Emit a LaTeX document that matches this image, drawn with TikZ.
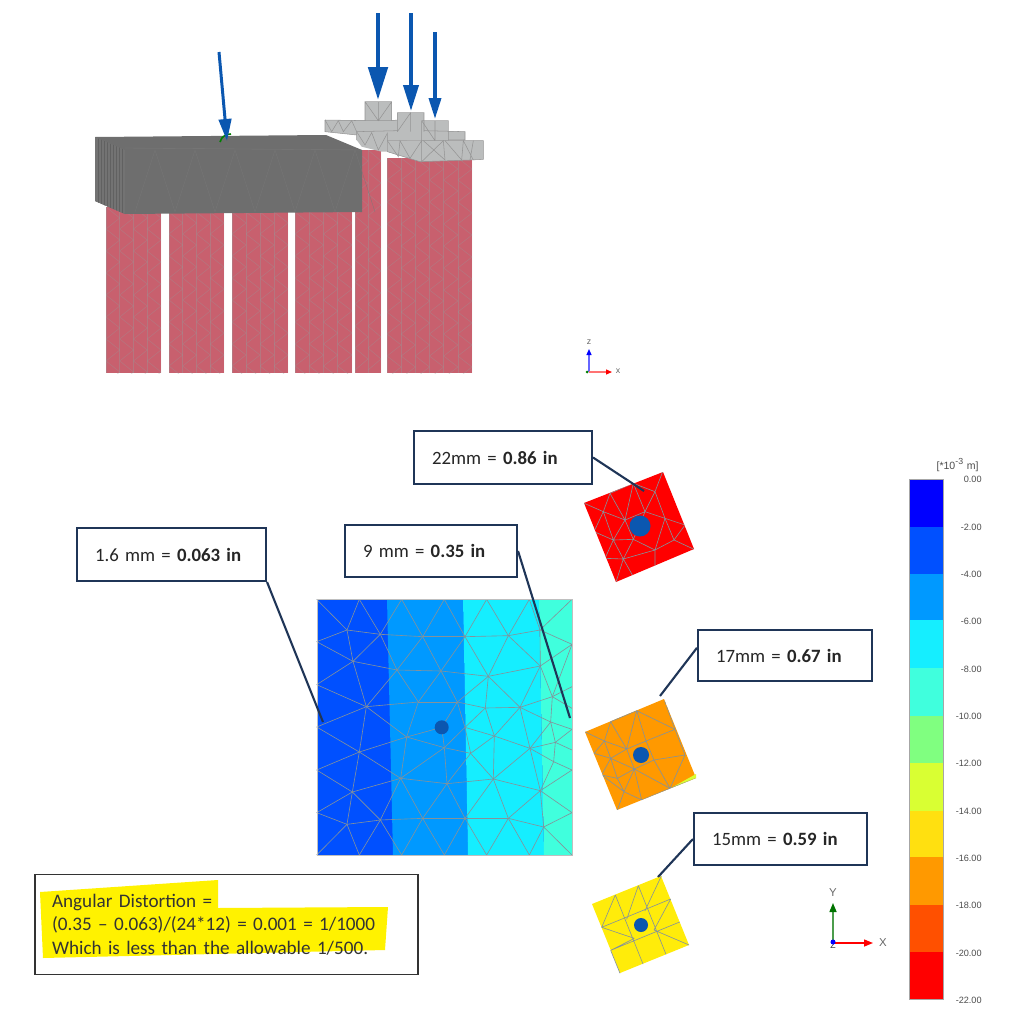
\documentclass[tikz,border=0pt]{standalone}
\usepackage{fontspec}
\setmainfont{Carlito}
\newfontfamily\legendfont{Liberation Sans}
\usetikzlibrary{arrows.meta}
\definecolor{pilered}{HTML}{C8606E}
\definecolor{blockgray}{HTML}{6E6E6E}
\definecolor{capgray}{HTML}{BBBDBD}
\definecolor{loadblue}{HTML}{0B57B0}
\definecolor{calloutnavy}{HTML}{1F3557}
\definecolor{meshgray}{HTML}{85929A}
\definecolor{bandA}{HTML}{0000FF}
\definecolor{bandB}{HTML}{0050FF}
\definecolor{bandC}{HTML}{0099FF}
\definecolor{bandD}{HTML}{15EEFF}
\definecolor{bandE}{HTML}{40FFDD}
\definecolor{bandF}{HTML}{80FF80}
\definecolor{bandG}{HTML}{D9FF33}
\definecolor{bandH}{HTML}{FFE010}
\definecolor{bandI}{HTML}{FF9900}
\definecolor{bandJ}{HTML}{FF5000}
\definecolor{bandK}{HTML}{FF0000}
\tikzstyle{callout} = [draw=calloutnavy, line width=1.2pt, fill=white, text=black!85, font=\fontsize{10.7}{13}\selectfont, inner xsep=.36cm, inner ysep=0pt, align=left]
\tikzstyle{leader} = [draw=calloutnavy, line width=1.2pt]
\tikzstyle{meshline} = [draw=meshgray, line width=.35pt]
\tikzstyle{capline} = [draw=black!42, line width=.3pt]
\tikzstyle{pilegrid} = [draw=black!40, line width=.3pt, opacity=.4]
\tikzstyle{scalelabel} = [anchor=east, inner sep=0pt, text=black!70, font=\legendfont\fontsize{5.2}{6}\selectfont]
\tikzstyle{axislabel} = [inner sep=0pt, text=black!60, font=\legendfont\fontsize{5}{6}\selectfont]
\newcommand{\pile}[4]{
	\fill[pilered] (#1,#3) rectangle (#2,373);
	\begin{scope}
		\clip (#1,#3) rectangle (#2,373);
		\pgfmathsetmacro{\dx}{(#2-#1)/#4}
		\foreach \i in {0,...,#4} {
			\draw[pilegrid] ({#1+\i*\dx},#3) -- ({#1+\i*\dx},373);
		}
		\foreach \i in {1,...,#4} {
			\foreach \k in {0,...,9} {
				\draw[pilegrid] ({#1+(\i-1)*\dx},{#3+22*\k}) -- ({#1+\i*\dx},{#3+22*\k+11}) -- ({#1+(\i-1)*\dx},{#3+22*\k+22});
			}
		}
	\end{scope}
}
\begin{document}
\begin{tikzpicture}[x=.02cm, y=-.02cm]
	\path[use as bounding box] (0,0) rectangle (1024,1028);

	% piles
	\pile{106}{161}{207}{4}
	\pile{169}{224}{212}{4}
	\pile{232}{288}{212}{4}
	\pile{295}{352}{212}{4}
	\pile{355}{381}{150}{2}
	\pile{387}{472}{158}{6}

	% pile caps
	\begin{scope}[shift={(310,90)}, scale=1/3]
		\fill[capgray] (45,90) -- (262,90) -- (262,125) -- (140,135) -- (45,125) -- cycle;
		\fill[capgray] (140,125) -- (330,120) -- (465,125) -- (465,150) -- (232,152) -- (232,185) -- (215,185) -- (155,170) -- (140,150) -- cycle;
		\fill[capgray] (232,152) -- (520,152) -- (520,208) -- (480,210) -- (330,215) -- (232,185) -- cycle;
		\fill[capgray] (165,35) -- (245,35) -- (245,92) -- (165,92) -- cycle;
		\fill[capgray] (262,68) -- (342,68) -- (342,125) -- (262,125) -- cycle;
		\fill[capgray] (335,92) -- (415,92) -- (415,152) -- (335,152) -- cycle;
		\draw[capline] (165,35) -- (245,35) -- (245,92) -- (165,92) -- cycle (165,35) -- (205,92) -- (245,35) (205,35) -- (205,92);
		\draw[capline] (262,68) -- (342,68) -- (342,125) (262,68) -- (262,125) (262,125) -- (302,68) -- (302,125);
		\draw[capline] (335,92) -- (415,92) -- (415,152) (335,92) -- (335,152) (375,92) -- (375,152) (335,92) -- (375,152);
		\draw[capline] (45,90) -- (165,92) (245,92) -- (262,90) (45,90) -- (45,125) -- (140,135);
		\draw[capline] (45,90) -- (65,125) -- (85,92) -- (100,125) -- (125,92) -- (140,125);
		\draw[capline] (140,125) -- (262,122) (140,125) -- (140,150) (342,122) -- (465,125) -- (465,150) -- (415,150);
		\draw[capline] (140,125) -- (165,165) -- (185,128) -- (205,180) -- (232,130) -- (232,152);
		\draw[capline] (232,152) -- (520,152) -- (520,208) -- (480,210) -- (330,215) -- (232,185) -- cycle;
		\draw[capline] (232,152) -- (265,200) -- (270,152) -- (300,205) -- (335,152) -- (335,215) -- (400,152) -- (405,210) -- (340,152);
		\draw[capline] (405,152) -- (455,210) -- (460,152) -- (490,210) (490,152) -- (480,210);
	\end{scope}

	% concrete block
	\fill[blockgray] (95,137) -- (326,135) -- (362,150) -- (362,212) -- (125,214) -- (95,201) -- cycle;
	\begin{scope}
		\clip (95,137) -- (125,150) -- (125,214) -- (95,201) -- cycle;
		\fill[black!55] (95,137) rectangle (125,214);
		\foreach \xx in {98,101,...,122} {
			\draw[black!62, line width=.2pt] (\xx,137) -- (\xx,214);
		}
	\end{scope}
	\draw[black!52, line width=.2pt] (125,148) -- (362,150);
	\foreach \xx in {155,195,...,355} {
		\draw[black!53, line width=.15pt] (\xx,150) -- (\xx-20,212) (\xx,150) -- (\xx+20,212);
	}

	% load arrows
	\coordinate (loadsa) at (219,52);
	\coordinate (loadta) at (227,141);
	\coordinate (loadsb) at (378,13);
	\coordinate (loadtb) at (378,100);
	\coordinate (loadsc) at (411,13);
	\coordinate (loadtc) at (411,111);
	\coordinate (loadsd) at (435,32);
	\coordinate (loadtd) at (435,119);
	\draw[green!50!black, line width=.9pt] (220,142) .. controls (222,136) and (226,134) .. (231,134);
	\draw[loadblue, line width=1.7pt, -{Triangle[length=.44cm, width=.25cm]}] (loadsa) -- (loadta);
	\draw[loadblue, line width=2.8pt, -{Triangle[length=.66cm, width=.38cm]}] (loadsb) -- (loadtb);
	\draw[loadblue, line width=2.2pt, -{Triangle[length=.52cm, width=.3cm]}] (loadsc) -- (loadtc);
	\draw[loadblue, line width=2pt, -{Triangle[length=.42cm, width=.24cm]}] (loadsd) -- (loadtd);

	% top triad
	\coordinate (triadz) at (589,372);
	\coordinate (triadzt) at (589,349);
	\coordinate (triadxt) at (612,372);
	\draw[blue!60, line width=.7pt, -{Triangle[length=.12cm, width=.1cm, color=blue]}] (triadz) -- (triadzt);
	\draw[red!55, line width=.7pt, -{Triangle[length=.12cm, width=.1cm, color=red]}] (triadz) -- (triadxt);
	\fill[green!50!black] (587,372) circle (1.5);
	\node[axislabel] (labz) at (589,342) {z};
	\node[axislabel] (labx) at (618,371) {x};

	% large footing
	\fill[bandB] (317,599) rectangle (572,855);
	\fill[bandC] (387,599) -- (463,599) -- (468,855) -- (393,855) -- cycle;
	\fill[bandD] (463,599) -- (539,599) -- (544,855) -- (468,855) -- cycle;
	\fill[bandE] (539,599) -- (572,599) -- (572,855) -- (544,855) -- cycle;
	\begin{scope}[shift={(300,590)}, scale=1/3]
		\foreach \n/\xx/\yy in {ta/50/28,tb/178/28,tc/305/28,td/433/28,te/560/28,tf/688/28,tg/816/28,
			ba/50/795,bb/178/795,bc/305/795,bd/433/795,be/560/795,bf/688/795,bg/816/795,
			la/50/155,lb/50/284,lc/50/411,ld/50/540,le/50/668,
			ra/816/163,rb/816/290,rc/816/355,rd/816/418,re/816/480,rf/816/540,rg/816/668,
			a/141/120,b/241/133,c/368/140,d/495/140,e/625/137,f/720/120,
			g/159/214,h/291/240,i/423/243,j/565/259,k/721/228,
			l/199/350,m/355/336,n/472/336,o/556/354,p/660/352,q/757/320,
			r/320/441,dot/425/412,s/433/473,t/495/412,u/583/438,v/752/396,
			w/178/486,x/512/490,y/690/475,z/766/457,aa/761/515,
			ab/302/565,ac/441/581,ad/580/567,ae/721/602,af/157/606,
			ag/141/703,ah/241/690,ai/368/685,aj/495/685,ak/625/685,al/731/711} {
			\coordinate (\n) at (\xx,\yy);
		}
		\foreach \p/\q in {ta/a,tb/a,tb/b,tc/b,tc/c,td/c,td/d,te/d,te/e,tf/e,tf/f,tg/f,
			a/b,b/c,c/d,d/e,e/f,f/ra,a/la,a/g,b/g,b/h,c/h,c/i,d/i,d/j,e/j,e/k,f/k,
			la/g,g/h,h/i,i/j,j/k,k/ra,lb/g,lb/l,g/l,h/l,h/m,i/m,i/n,j/n,j/o,j/p,k/p,k/q,rb/q,ra/q,
			l/m,m/n,n/o,o/p,p/q,lc/l,l/r,m/r,r/dot,n/t,l/w,r/w,r/s,dot/s,s/t,s/x,t/o,t/u,o/u,p/u,p/y,p/v,q/v,q/rc,
			v/rd,v/z,u/y,y/v,y/z,z/rd,z/re,z/aa,aa/rf,aa/ae,y/aa,y/ae,n/dot,
			lc/w,ld/w,ld/af,w/af,w/ab,r/ab,s/ab,s/ac,x/ac,x/ad,u/ad,t/x,u/x,y/ad,ab/ac,ac/ad,ad/ae,af/ab,
			ae/rf,le/af,le/ag,af/ag,af/ah,ab/ah,ab/ai,ac/ai,ac/aj,ad/aj,ad/ak,ae/ak,ae/al,ae/rg,al/rg,ak/al,ag/ah,ah/ai,ai/aj,aj/ak,
			ba/ag,bb/ag,bb/ah,bc/ah,bc/ai,bd/ai,bd/aj,be/aj,be/ak,bf/ak,bf/al,bg/al} {
			\draw[meshline] (\p) -- (\q);
		}
	\end{scope}
	\draw[black!25, line width=.4pt] (317,599) rectangle (572,855);
	\fill[loadblue] (441.7,727.3) circle (7);

	% red footing
	\fill[bandK] (663,472) -- (694,549) -- (616,582) -- (584,503) -- cycle;
	\begin{scope}
		\clip (663,472) -- (694,549) -- (616,582) -- (584,503) -- cycle;
		\begin{scope}[shift={(570,460)}, scale=1/3]
			\draw[meshline] (43,130) -- (100,155) -- (120,100) -- (165,180) -- (190,70) -- (225,155) -- (255,95) -- (278,35)
				(190,70) -- (255,95) -- (285,175) -- (225,155) -- (165,180) -- (100,155) -- (130,240) -- (165,180) -- (190,238) -- (225,155)
				(285,175) -- (345,195) (285,175) -- (312,240) -- (372,268) (345,195) -- (312,240) -- (255,270) -- (285,175)
				(190,238) -- (255,270) -- (255,350) (190,238) -- (130,240) -- (160,297) -- (190,238) (160,297) -- (255,270)
				(100,155) -- (72,215) -- (130,240) -- (105,295) -- (160,297) -- (190,350) (160,297) -- (138,366)
				(120,100) -- (190,70);
		\end{scope}
	\end{scope}
	\fill[loadblue] (640,526) circle (10.5);

	% orange footing
	\fill[bandI] (664,699) -- (696,778) -- (617,810) -- (585,732) -- cycle;
	\fill[bandG] (696,774) -- (696,778) -- (671,788) -- cycle;
	\begin{scope}
		\clip (664,699) -- (696,778) -- (617,810) -- (585,732) -- cycle;
		\begin{scope}[shift={(570,690)}, scale=1/3]
			\draw[meshline] (44,125) -- (103,153) -- (122,95) -- (170,177) -- (200,62) -- (228,153) -- (315,118) -- (282,28)
				(122,95) -- (200,62) -- (315,118) (103,153) -- (170,177) -- (228,153) -- (252,210) -- (193,237) -- (170,177) -- (122,205) -- (103,153)
				(315,118) -- (345,195) -- (252,210) -- (300,295) -- (378,265) (345,195) -- (300,295) (228,153) -- (200,62)
				(193,237) -- (122,205) -- (142,265) -- (193,237) -- (215,330) -- (300,295) -- (193,237) (142,265) -- (162,305) -- (193,237)
				(122,205) -- (72,190) (72,190) -- (103,153) (142,265) -- (95,255) -- (122,205) (95,255) -- (162,305) -- (142,360) (162,305) -- (215,330);
		\end{scope}
	\end{scope}
	\fill[loadblue] (641,755) circle (8);

	% yellow footing
	\fill[bandH!60!yellow] (661,876) -- (689,945) -- (620,973) -- (592,904) -- cycle;
	\begin{scope}[shift={(580,880)}, scale=1/3]
		\draw[meshline] (106,45) -- (189,252) (175,17) -- (258,223) (65,142) -- (272,57) (92,211) -- (299,126)
			(106,45) -- (65,142) (175,17) -- (140,118) (244,-12) -- (195,92) (272,57) -- (222,150)
			(65,142) -- (163,175) (163,175) -- (92,211) (222,150) -- (327,195) (92,211) -- (120,280);
	\end{scope}
	\fill[loadblue] (641,925) circle (7);

	% callouts
	\node[callout, text width=2.84cm, minimum height=1.06cm] (boxa) at (503,457.5) {22mm = \textbf{0.86 in}};
	\node[callout, text width=3.06cm, minimum height=1.06cm] (boxb) at (171.5,554.5) {1.6 mm = \textbf{0.063 in}};
	\node[callout, text width=2.72cm, minimum height=1.04cm] (boxc) at (431,551) {9 mm = \textbf{0.35 in}};
	\node[callout, text width=2.76cm, minimum height=1.02cm] (boxd) at (785,655.5) {17mm = \textbf{0.67 in}};
	\node[callout, text width=2.74cm, minimum height=1.04cm] (boxe) at (780.5,839) {15mm = \textbf{0.59 in}};
	\coordinate (enda) at (644,491);
	\coordinate (endb) at (323,722);
	\coordinate (endc) at (570,718);
	\coordinate (endd) at (660,696);
	\coordinate (ende) at (658,877);
	\draw[leader] (boxa.east) -- (enda);
	\draw[leader] (boxb.south east) -- (endb);
	\draw[leader] (boxc.east) -- (endc);
	\draw[leader] (boxd.175) -- (endd);
	\draw[leader] (boxe.west) -- (ende);

	% note
	\fill[yellow] (40,892) -- (218,880) -- (218,908) -- (388,907) -- (385,950) -- (43,958) -- cycle;
	\node[draw=black!80, line width=.8pt, minimum width=7.66cm, minimum height=2cm, inner xsep=.34cm, inner ysep=0pt, text width=6.98cm, align=left, text=black!80, font=\fontsize{10.9}{13.4}\selectfont] (note) at (226.5,924.5) {Angular Distortion =\\(0.35 – 0.063)/(24*12) = 0.001 = 1/1000\\Which is less than the allowable 1/500.\\[.3em]};

	% bottom triad
	\coordinate (triado) at (833,943);
	\coordinate (triady) at (833,903);
	\coordinate (triadx) at (873,943);
	\draw[green!45!black!70, line width=.8pt, -{Triangle[length=.18cm, width=.14cm, color=green!45!black]}] (triado) -- (triady);
	\draw[red, line width=.8pt, -{Triangle[length=.18cm, width=.14cm]}] (triado) -- (triadx);
	\node[axislabel, text=black!80] (labzz) at (833,945) {Z};
	\fill[blue] (833,942) circle (2.5);
	\node[axislabel, font=\legendfont\fontsize{6.5}{7}\selectfont] (labyy) at (833,893) {Y};
	\node[axislabel, font=\legendfont\fontsize{6.5}{7}\selectfont] (labxx) at (883,943) {X};

	% colour scale
	\foreach \ya/\yb/\col in {479/527/bandA,527/574/bandB,574/620/bandC,620/668/bandD,668/716/bandE,716/763/bandF,763/811/bandG,811/857/bandH,857/905/bandI,905/952/bandJ,952/999/bandK} {
		\fill[\col] (909,\ya) rectangle (943,\yb);
		\draw[\col!70!black, line width=.5pt] (909,\yb) -- (943,\yb);
	}
	\draw[black!35, line width=.4pt] (909,479) rectangle (943,999);
	\foreach \yy/\lab in {479/0.00,527/-2.00,574/-4.00,621/-6.00,669/-8.00,716/-10.00,763/-12.00,811/-14.00,858/-16.00,905/-18.00,953/-20.00,1000/-22.00} {
		\node[scalelabel] (tick\lab) at (982,\yy) {\lab};
	}
	\node[scalelabel, font=\legendfont\fontsize{6}{7}\selectfont] (unit) at (979,465) {[*10\textsuperscript{-3} m]};
\end{tikzpicture}
\end{document}
